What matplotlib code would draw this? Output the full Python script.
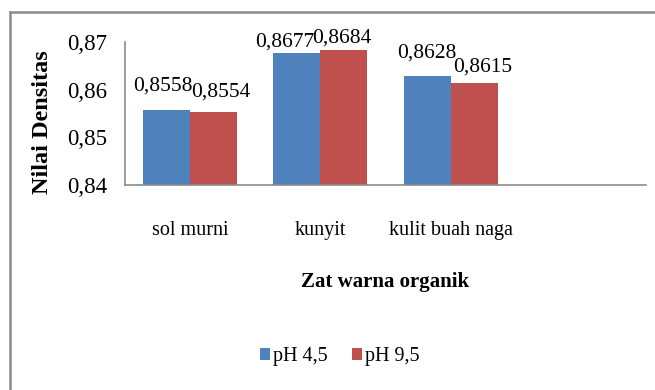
import numpy as np
import matplotlib
matplotlib.use("Agg")
import matplotlib.pyplot as plt
from matplotlib.lines import Line2D

plt.rcParams["font.family"] = ["Liberation Serif", "DejaVu Serif"]

categories = ["sol murni", "kunyit", "kulit buah naga"]
ph45 = [0.8558, 0.8677, 0.8628]
ph95 = [0.8554, 0.8684, 0.8615]
series_names = ["pH 4,5", "pH 9,5"]
y_ticks = [0.84, 0.85, 0.86, 0.87]

blue = "#4F81BD"
red = "#C0504D"

# pixel nudges for the value labels so neighbouring labels don't collide
nudge45 = [(-4, 19), (-12, 6), (0, 19)]
nudge95 = [(7, 15), (-2, 7), (9, 11)]


def comma(v, nd):
    return f"{v:.{nd}f}".replace(".", ",")


fig = plt.figure(figsize=(6.55, 3.9), dpi=100)
ax = fig.add_axes([0.1908, 0.5256, 0.7954, 0.3667])

x = np.arange(len(categories))
w = 0.361
b1 = ax.bar(x - w / 2, ph45, w, color=blue, label=series_names[0])
b2 = ax.bar(x + w / 2, ph95, w, color=red, label=series_names[1])

for bars, vals, nudges in [(b1, ph45, nudge45), (b2, ph95, nudge95)]:
    for rect, v, (dx, dy) in zip(bars, vals, nudges):
        ax.annotate(comma(v, 4), (rect.get_x() + rect.get_width() / 2, v),
                    xytext=(dx, dy), textcoords="offset pixels",
                    ha="center", va="baseline", fontsize=15.5)

ax.set_xlim(-0.5, 3.5)
ax.set_ylim(0.84, 0.87)
ax.set_yticks(y_ticks)
ax.set_yticklabels([comma(v, 2) for v in y_ticks], fontsize=16.5)
ax.set_xticks(x)
ax.set_xticklabels(categories, fontsize=14.5)
ax.tick_params(axis="y", length=0, pad=13)
ax.tick_params(axis="x", length=0, pad=26)

for s in ["top", "right"]:
    ax.spines[s].set_visible(False)
for s in ["left", "bottom"]:
    ax.spines[s].set_color("#8c8c8c")
    ax.spines[s].set_linewidth(1.2)

ax.set_xlabel("Zat warna organik", fontsize=15, fontweight="bold")
ax.xaxis.set_label_coords(0.5, -0.678)
ax.xaxis.label.set_va("center")
ax.set_ylabel("Nilai Densitas", fontsize=17.5, fontweight="bold")
ax.yaxis.set_label_coords(-0.159, 0.44)
ax.yaxis.label.set_va("center")

fig.legend(loc="center", bbox_to_anchor=(0.519, 0.085), ncol=2, frameon=False,
           fontsize=14.5, handlelength=0.5, handleheight=0.5, handletextpad=0.15,
           columnspacing=1.2)

# outer chart frame (top and left edges)
fig.add_artist(Line2D([9.5 / 655, 9.5 / 655], [0, 1 - 12 / 390],
                      transform=fig.transFigure, color="#8c8c8c", lw=1.8))
fig.add_artist(Line2D([9.5 / 655, 1], [1 - 12 / 390, 1 - 12 / 390],
                      transform=fig.transFigure, color="#8c8c8c", lw=1.8))

fig.savefig("out.png", dpi=100)
